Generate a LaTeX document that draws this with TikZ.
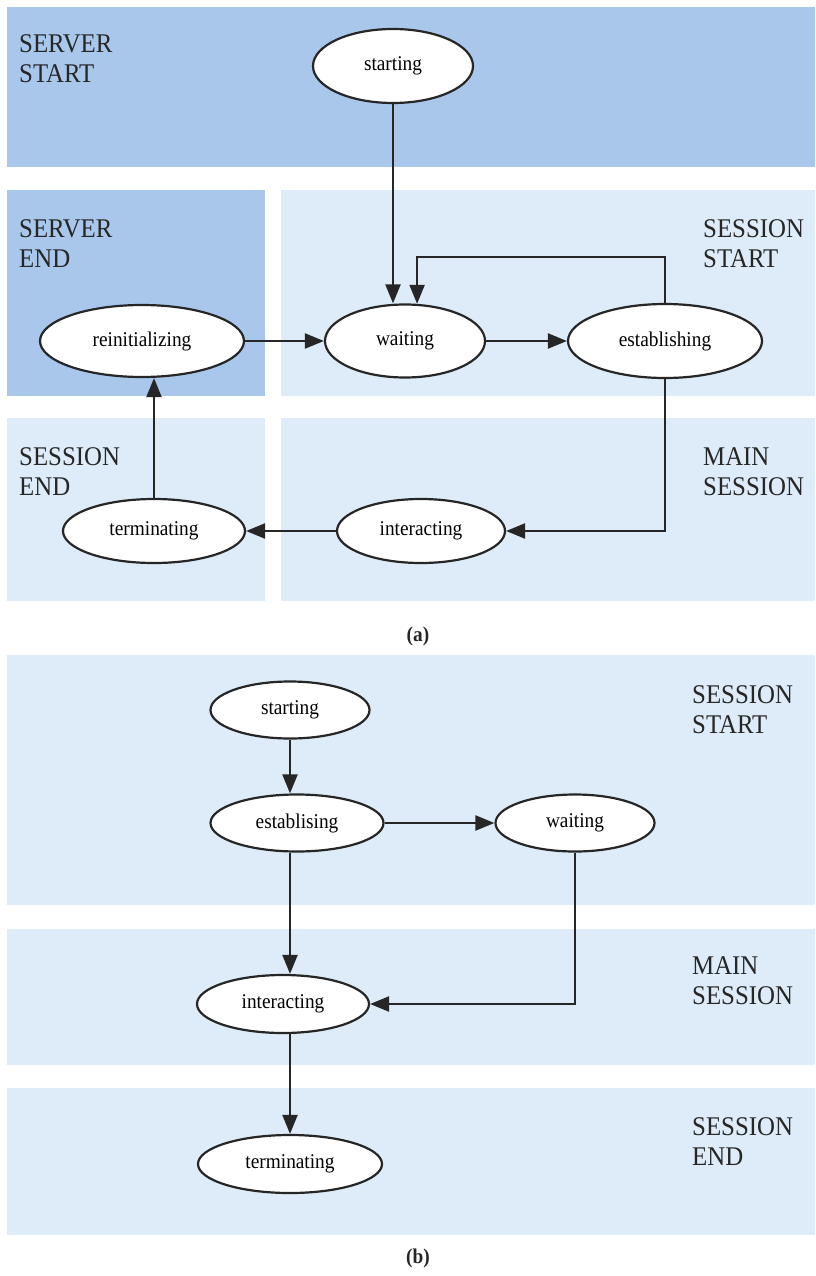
\documentclass[tikz,border=0pt]{standalone}
\usepackage{fontspec}
\setmainfont{Liberation Serif}[FakeStretch=0.92]
\usetikzlibrary{shapes.geometric,arrows.meta,calc}
\definecolor{bandDark}{HTML}{A8C7EB}
\definecolor{bandLight}{HTML}{DDECF8}
\definecolor{inkc}{HTML}{262626}
\begin{document}
\begin{tikzpicture}[x=1pt,y=-1pt,
  state/.style={ellipse,draw=inkc,line width=2.2pt,fill=white,inner sep=0pt,
    font=\fontsize{21}{23}\selectfont},
  arr/.style={draw=inkc,line width=2.2pt,-{Triangle[length=19pt,width=15pt]}},
  zone/.style={font=\fontsize{27}{30}\selectfont,align=left,anchor=west,inner sep=0pt,text=inkc},
  capt/.style={font=\fontsize{21}{23}\selectfont\bfseries,text=inkc}]
\useasboundingbox (0,0) rectangle (815,1276);
\fill[white] (0,0) rectangle (815,1276);

% ---- (a) background zones
\fill[bandDark]  (7,7)     rectangle (815,167);
\fill[bandDark]  (7,190)   rectangle (265,396);
\fill[bandLight] (281,190) rectangle (815,396);
\fill[bandLight] (7,418)   rectangle (265,601);
\fill[bandLight] (281,418) rectangle (815,601);

\node[zone] (zA1) at (19,59)  {SERVER\\START};
\node[zone] (zA2) at (19,244) {SERVER\\END};
\node[zone] (zA3) at (703,244) {SESSION\\START};
\node[zone] (zA4) at (19,472) {SESSION\\END};
\node[zone] (zA5) at (703,472) {MAIN\\SESSION};

% ---- (a) states
\node[state,minimum width=160pt,minimum height=74pt] (aStart) at (393,66)  {starting};
\node[state,minimum width=204pt,minimum height=72pt] (aReinit) at (142,341) {reinitializing};
\node[state,minimum width=160pt,minimum height=73pt] (aWait) at (405,341) {waiting};
\node[state,minimum width=194pt,minimum height=74pt] (aEst) at (665,341) {establishing};
\node[state,minimum width=182pt,minimum height=64pt] (aTerm) at (154,531) {terminating};
\node[state,minimum width=168pt,minimum height=64pt] (aInt) at (421,531) {interacting};

% ---- (a) transitions
\draw[arr] (aStart.south) -- (aStart.south |- aWait.north);
\draw[arr] (aEst.north) -- ++(0,-46) -| (aWait.72);
\draw[arr] (aReinit.east) -- (aWait.west);
\draw[arr] (aWait.east) -- (aEst.west);
\draw[arr] (aEst.south) |- (aInt.east);
\draw[arr] (aInt.west) -- (aTerm.east);
\draw[arr] (aTerm.north) -- (aTerm.north |- aReinit.south);

\node[capt] (captA) at (418,636) {(a)};

% ---- (b) background zones
\fill[bandLight] (7,655)  rectangle (815,905);
\fill[bandLight] (7,929)  rectangle (815,1065);
\fill[bandLight] (7,1088) rectangle (815,1235);

\node[zone] (zB1) at (692,710)  {SESSION\\START};
\node[zone] (zB2) at (692,981)  {MAIN\\SESSION};
\node[zone] (zB3) at (692,1142) {SESSION\\END};

% ---- (b) states
\node[state,minimum width=159pt,minimum height=57pt] (bStart) at (290,710)  {starting};
\node[state,minimum width=173pt,minimum height=57pt] (bEst)   at (297,823)  {establising};
\node[state,minimum width=159pt,minimum height=57pt] (bWait)  at (575,823)  {waiting};
\node[state,minimum width=172pt,minimum height=58pt] (bInt)   at (283,1004) {interacting};
\node[state,minimum width=184pt,minimum height=58pt] (bTerm)  at (290,1164) {terminating};

% ---- (b) transitions
\draw[arr] (bStart.south) -- (bStart.south |- bEst.north);
\draw[arr] (bEst.east) -- (bWait.west);
\draw[arr] (bTerm.north |- bEst.south) -- (bTerm.north |- bInt.north);
\draw[arr] (bWait.south) |- (bInt.east);
\draw[arr] (bTerm.north |- bInt.south) -- (bTerm.north);

\node[capt] (captB) at (418,1258) {(b)};
\end{tikzpicture}
\end{document}
